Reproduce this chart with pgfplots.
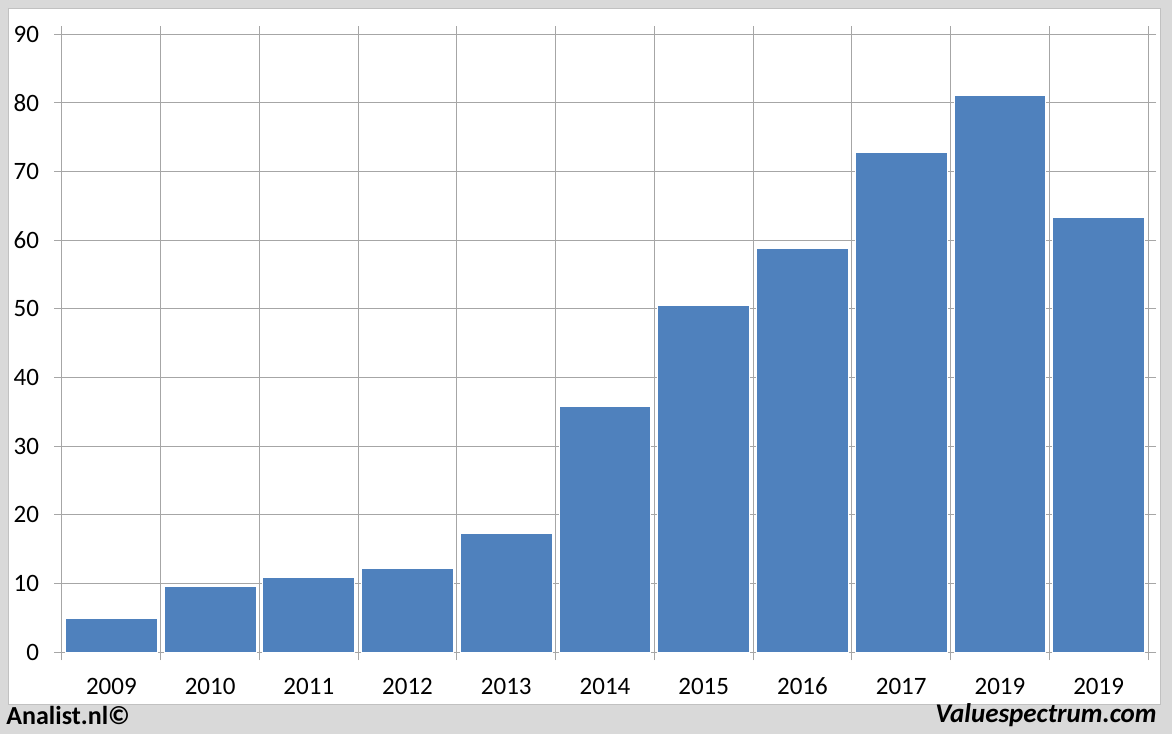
\documentclass[border=0pt]{standalone}
\usepackage{pgfplots}
\pgfplotsset{compat=1.18}
\usepackage{fontspec}
\setmainfont{Carlito}
\definecolor{barblue}{HTML}{4F81BD}
\definecolor{gridgray}{HTML}{A6A6A6}
\definecolor{bggray}{HTML}{D9D9D9}
\begin{document}
\begin{tikzpicture}
\fill[bggray] (0pt,0pt) rectangle (586pt,367pt);
\filldraw[fill=white,draw=gridgray!70,line width=0.4pt] (4pt,15pt) rectangle (580pt,363pt);
\begin{axis}[
  at={(31pt,41pt)}, anchor=south west,
  scale only axis, width=543pt, height=309pt,
  xmin=-0.5, xmax=10.5, ymin=0, ymax=90,
  ytick={0,10,...,90},
  xtick={0,...,10},
  xticklabels={2009,2010,2011,2012,2013,2014,2015,2016,2017,2019,2019},
  minor xtick={-0.5,0.5,...,10.5},
  major x tick style={draw=none},
  tick align=outside,
  major tick length=4pt, minor tick length=4pt,
  tick style={gridgray, line width=0.5pt},
  ymajorgrids, xminorgrids,
  grid style={gridgray, line width=0.5pt},
  axis line style={gridgray, line width=0.5pt},
  /pgf/number format/assume math mode=true,
  tick label style={font=\fontsize{12.5}{14}\selectfont},
  yticklabel style={xshift=-4pt},
  xticklabel style={yshift=-4.5pt, text height=9pt, text depth=0pt},
]
\addplot[ybar, bar width=0.93, fill=barblue, draw=white, line width=0.5pt] coordinates {
(0,4.9) (1,9.6) (2,10.8) (3,12.2) (4,17.2) (5,35.8) (6,50.5) (7,58.7) (8,72.8) (9,81.1) (10,63.3)
};
\end{axis}
\node[anchor=base west, font=\fontsize{13}{15}\selectfont\bfseries, inner sep=0pt] at (3pt,5pt) {Analist.nl©};
\node[anchor=base east, font=\fontsize{13.5}{15}\selectfont\bfseries\itshape, inner sep=0pt] at (578.5pt,6pt) {Valuespectrum.com};
\end{tikzpicture}
\end{document}
